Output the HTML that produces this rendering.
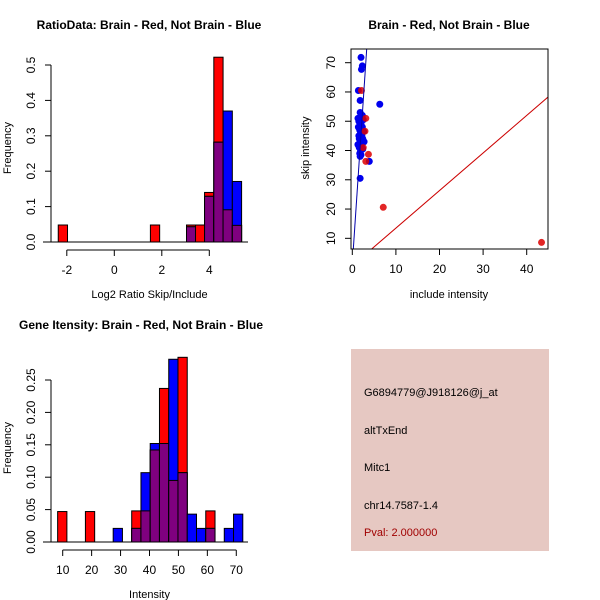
<!DOCTYPE html>
<html><head><meta charset="utf-8"><style>
body{margin:0;background:#fff}
svg{display:block;font-family:"Liberation Sans",sans-serif}
</style></head><body>
<svg id="s" width="600" height="600" xmlns="http://www.w3.org/2000/svg">
<rect width="600" height="600" fill="#fff"/>
<g id="p1"></g>
<g id="p2"></g>
<g id="p3"></g>
<g>
<rect x="351" y="349" width="198" height="202" fill="#e6c8c2"/>
<text x="364" y="396" font-size="11">G6894779@J918126@j_at</text>
<text x="364" y="434" font-size="11">altTxEnd</text>
<text x="364" y="471" font-size="11">Mitc1</text>
<text x="364" y="509" font-size="11">chr14.7587-1.4</text>
<text x="364" y="536" font-size="11" fill="#a00000">Pval: 2.000000</text>
</g>
</svg>
<script>
// Panel 1 data: Log2 ratio histogram
const ratioBinLeft = [-2.36, 1.52, 3.04, 3.42, 3.8, 4.19, 4.58, 4.97];
const ratioBinWidth = 0.39;
const ratioRed  = [0.048, 0.048, 0.048, 0.048, 0.14, 0.522, 0.091, 0.047];
const ratioBlue = [0, 0, 0.043, 0, 0.129, 0.282, 0.37, 0.171];
const ratioXTicks = [-2, 0, 2, 4];
const ratioYTicks = [0.0, 0.1, 0.2, 0.3, 0.4, 0.5];

// Panel 2 data: scatter
const redX = [7.1, 43.4, 3.7, 3.1, 3.1, 2.9, 2.1, 2.5];
const redY = [20.6, 8.6, 38.7, 36.3, 51, 46.6, 60.5, 41];
const blueX = [2.0,2.3,2.1,1.4,1.8,6.3,3.9,1.8,1.8,2.3,1.3,2.5,1.5,2.0,1.4,2.3,1.7,2.6,1.9,1.5,2.2,1.6,2.4,1.8,2.7,1.3,2.1,1.6,2.4,1.9,1.7,2.0,1.8];
const blueY = [71.8,68.9,67.7,60.5,57.1,55.8,36.3,30.5,53,52,51,50.5,50,49,48,48,47,46.5,46,45,45,44,44,43,43,42,42,41,40.5,40,39,38.5,38];
const blueLine = [[0.23, 6.3], [3.3, 74.6]];
const redLine = [[4.4, 6.3], [45, 58.4]];
const scatXTicks = [0, 10, 20, 30, 40];
const scatYTicks = [10, 20, 30, 40, 50, 60, 70];

// Panel 3 data: intensity histogram
const intBinCenter = [9.85, 19.45, 29.05, 35.45, 38.65, 41.85, 45.05, 48.25, 51.45, 54.65, 57.85, 61.05, 67.45, 70.65];
const intBinWidth = 3.2;
const intRed  = [0.047, 0.047, 0, 0.048, 0.048, 0.142, 0.237, 0.095, 0.285, 0, 0, 0.048, 0, 0];
const intBlue = [0, 0, 0.021, 0.021, 0.107, 0.152, 0.152, 0.282, 0.107, 0.043, 0.021, 0.021, 0.021, 0.043];
const intXTicks = [10, 20, 30, 40, 50, 60, 70];
const intYTicks = ["0.00","0.05","0.10","0.15","0.20","0.25"];

const NS = "http://www.w3.org/2000/svg";
function mk(parent, tag, attrs, txt) {
  const e = document.createElementNS(NS, tag);
  for (const k in attrs) e.setAttribute(k, attrs[k]);
  if (txt !== undefined) e.textContent = txt;
  parent.appendChild(e);
  return e;
}

function histPanel(g, o) {
  const sx = v => o.x0 + (v - o.xv0) * o.xs;
  const sy = v => o.base - v * o.ys;
  let t = mk(g, 'text', {x: o.titleX, y: o.titleY, 'font-size': 12, 'font-weight': 'bold', 'text-anchor': 'middle'}, o.title);
  
  
  for (let i = 0; i < o.left.length; i++) {
    const L = o.left[i], R = L + o.w;
    const r = o.red[i], b = o.blue[i], m = Math.min(r, b);
    if (r > 0) {
      const e = mk(g, 'rect', {x: sx(L), y: sy(r), width: sx(R) - sx(L), height: sy(0) - sy(r), fill: '#ff0000', stroke: '#000', 'stroke-width': 1});
      
      
    }
    if (b > 0) {
      const e = mk(g, 'rect', {x: sx(L), y: sy(b), width: sx(R) - sx(L), height: sy(0) - sy(b), fill: '#0000ff', stroke: '#000', 'stroke-width': 1});
      
      
    }
    if (m > 0) {
      const e = mk(g, 'rect', {x: sx(L), y: sy(m), width: sx(R) - sx(L), height: sy(0) - sy(m), fill: '#7f007f', stroke: '#000', 'stroke-width': 1});
      
      
    }
  }
  let bl = mk(g, 'line', {x1: o.axL - 8, x2: o.axR, y1: o.base, y2: o.base, stroke: '#000'});
  
  
  const ya = mk(g, 'g', {});
  
  
  const yv = o.yt.map(Number);
  mk(ya, 'line', {x1: o.axL, x2: o.axL, y1: sy(yv[0]), y2: sy(yv[yv.length - 1]), stroke: '#000'});
  o.yt.forEach(v => {
    const y = sy(Number(v));
    mk(ya, 'line', {x1: o.axL - 6, x2: o.axL, y1: y, y2: y, stroke: '#000'});
    const tx = mk(ya, 'text', {x: o.axL - 16, y: y, 'font-size': 12, 'text-anchor': 'middle', transform: `rotate(-90 ${o.axL - 16} ${y})`}, String(v));
    
    
  });
  const xa = mk(g, 'g', {});
  
  
  mk(xa, 'line', {x1: sx(o.xt[0]), x2: sx(o.xt[o.xt.length - 1]), y1: o.axY, y2: o.axY, stroke: '#000'});
  o.xt.forEach(v => {
    const x = sx(v);
    mk(xa, 'line', {x1: x, x2: x, y1: o.axY, y2: o.axY + 6, stroke: '#000'});
    const tx = mk(xa, 'text', {x: x, y: o.axY + 24, 'font-size': 12, 'text-anchor': 'middle'}, String(v));
    
    
  });
  let xt = mk(g, 'text', {x: (o.axL + o.axR) / 2, y: o.axY + 48, 'font-size': 11, 'text-anchor': 'middle'}, o.xlab);
  
  
  let yt = mk(g, 'text', {x: 11, y: o.ylabY, 'font-size': 11, 'text-anchor': 'middle', transform: `rotate(-90 11 ${o.ylabY})`}, 'Frequency');
  
  
}

histPanel(document.getElementById('p1'), {
  x0: 114.3, xv0: 0, xs: 23.75, base: 242, ys: 354,
  left: ratioBinLeft, w: ratioBinWidth, red: ratioRed, blue: ratioBlue,
  xt: ratioXTicks, yt: ratioYTicks.map(v => v.toFixed(1)), axL: 51, axR: 248, axY: 250,
  title: 'RatioData: Brain - Red, Not Brain - Blue', titleX: 149, titleY: 29,
  xlab: 'Log2 Ratio Skip/Include', ylabY: 148
});
histPanel(document.getElementById('p3'), {
  x0: 62.7, xv0: 10, xs: 2.893, base: 542, ys: 648,
  left: intBinCenter.map(c => c - intBinWidth / 2), w: intBinWidth, red: intRed, blue: intBlue,
  xt: intXTicks, yt: intYTicks, axL: 51, axR: 248, axY: 550,
  title: 'Gene Itensity: Brain - Red, Not Brain - Blue', titleX: 141, titleY: 329,
  xlab: 'Intensity', ylabY: 448
});

(function () {
  const g = document.getElementById('p2');
  const L = 351, R = 548, T = 49, B = 249;
  const sx = v => 352.3 + v * 4.36;
  const sy = v => 62.7 + (70 - v) * 2.927;
  let t = mk(g, 'text', {x: 449, y: 29, 'font-size': 12, 'font-weight': 'bold', 'text-anchor': 'middle'}, 'Brain - Red, Not Brain - Blue');
  
  
  const cp = mk(mk(g, 'defs', {}), 'clipPath', {id: 'cp'});
  mk(cp, 'rect', {x: L, y: T, width: R - L, height: B - T});
  const pg = mk(g, 'g', {'clip-path': 'url(#cp)'});
  
  
  for (let i = 0; i < blueX.length; i++) {
    const c = mk(pg, 'circle', {cx: sx(blueX[i]), cy: sy(blueY[i]), r: 3.5, fill: '#0000ee'});
    
    
  }
  for (let i = 0; i < redX.length; i++) {
    const c = mk(pg, 'circle', {cx: sx(redX[i]), cy: sy(redY[i]), r: 3.5, fill: '#dd0000', 'fill-opacity': 0.85});
    
    
  }
  const bln = mk(pg, 'line', {x1: sx(blueLine[0][0]), y1: sy(blueLine[0][1]), x2: sx(blueLine[1][0]), y2: sy(blueLine[1][1]), stroke: '#0000aa'});
  
  
  const rln = mk(pg, 'line', {x1: sx(redLine[0][0]), y1: sy(redLine[0][1]), x2: sx(redLine[1][0]), y2: sy(redLine[1][1]), stroke: '#cc0000'});
  
  
  const box = mk(g, 'rect', {x: L, y: T, width: R - L, height: B - T, fill: 'none', stroke: '#000'});
  
  
  scatXTicks.forEach(v => {
    const x = sx(v);
    mk(g, 'line', {x1: x, x2: x, y1: B, y2: B + 6, stroke: '#000'});
    const tx = mk(g, 'text', {x: x, y: B + 24, 'font-size': 12, 'text-anchor': 'middle'}, String(v));
    
    
  });
  scatYTicks.forEach(v => {
    const y = sy(v);
    mk(g, 'line', {x1: L - 6, x2: L, y1: y, y2: y, stroke: '#000'});
    const tx = mk(g, 'text', {x: L - 16, y: y, 'font-size': 12, 'text-anchor': 'middle', transform: `rotate(-90 ${L - 16} ${y})`}, String(v));
    
    
  });
  let xt = mk(g, 'text', {x: 449, y: 298, 'font-size': 11, 'text-anchor': 'middle'}, 'include intensity');
  
  
  let yt = mk(g, 'text', {x: 309, y: 148, 'font-size': 11, 'text-anchor': 'middle', transform: 'rotate(-90 309 148)'}, 'skip intensity');
  
  
})();
</script>
</body></html>
